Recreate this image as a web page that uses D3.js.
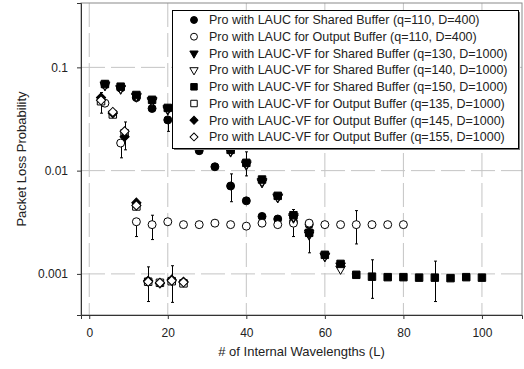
<!DOCTYPE html>
<html>
<head>
<meta charset="utf-8">
<script src="https://cdn.jsdelivr.net/npm/d3@7"></script>
<style>
  body { margin: 0; background: #fff; }
  svg { display: block; font-family: "Liberation Sans", Arial, sans-serif; }
</style>
</head>
<body>
<div id="chart"></div>
<script>
// ---------------- data

const seriesNames = [
  "Pro with LAUC for Shared Buffer (q=110, D=400)",
  "Pro with LAUC for Output Buffer (q=110, D=400)",
  "Pro with LAUC-VF for Shared Buffer (q=130, D=1000)",
  "Pro with LAUC-VF for Shared Buffer (q=140, D=1000)",
  "Pro with LAUC-VF for Shared Buffer (q=150, D=1000)",
  "Pro with LAUC-VF for Output Buffer (q=135, D=1000)",
  "Pro with LAUC-VF for Output Buffer (q=145, D=1000)",
  "Pro with LAUC-VF for Output Buffer (q=155, D=1000)"
]

// wavelengths used by each group of runs
const lShared400 = [4, 8, 12, 16, 20, 24, 28, 32, 36, 40, 44, 48, 52, 56]
const lOutput400 = [4, 8, 12, 16, 20, 24, 28, 32, 36, 40, 44, 48, 52, 56, 60, 64, 68, 72, 76, 80]
const lSharedVF = [4, 8, 12, 16, 20, 24, 28, 32, 36, 40, 44, 48, 52, 56, 60, 64]
const lSharedVF150 = [4, 8, 12, 16, 20, 24, 28, 32, 36, 40, 44, 48, 52, 56, 60, 64, 68, 72, 76, 80, 84, 88, 92, 96, 100]
const lOutputVF = [3, 6, 9, 12, 15, 18, 21, 24]

const lossShared110 = [0.068, 0.063, 0.051, 0.040, 0.031, 0.022, 0.0156, 0.0109, 0.0071, 0.0051, 0.0036, 0.0034, 0.0032, 0.0030]
const lossOutput110 = [0.045, 0.0185, 0.0032, 0.0030, 0.0032, 0.0030, 0.0030, 0.0031, 0.0030, 0.0029, 0.0031, 0.0030, 0.0031, 0.0031, 0.0030, 0.0030, 0.0030, 0.0030, 0.0030, 0.0030]
const lossShared130 = [0.067, 0.062, 0.052, 0.047, 0.039, 0.031, 0.024, 0.019, 0.0153, 0.0114, 0.0077, 0.0055, 0.0035, 0.0024, 0.00148, 0.0012]
const lossShared140 = [0.068, 0.063, 0.053, 0.048, 0.040, 0.031, 0.025, 0.020, 0.0156, 0.0117, 0.0079, 0.0056, 0.0036, 0.0025, 0.0015, 0.00112]
const lossShared150 = [0.069, 0.065, 0.054, 0.0485, 0.0405, 0.032, 0.025, 0.020, 0.0159, 0.0119, 0.0082, 0.0057, 0.0037, 0.0025, 0.00153, 0.00125, 0.00098, 0.00094, 0.00093, 0.00093, 0.00092, 0.00092, 0.00091, 0.00093, 0.00092]
const lossOutput135 = [0.047, 0.035, 0.023, 0.0045, 0.00084, 0.00082, 0.00085, 0.00081]
const lossOutput145 = [0.051, 0.036, 0.0213, 0.0049, 0.00086, 0.00081, 0.00088, 0.00084]
const lossOutput155 = [0.048, 0.037, 0.024, 0.0046, 0.00084, 0.00082, 0.00086, 0.00083]

// error bars: [series index, L, low, high]
const errorBars = [
  [6, 3, 0.036, 0.057],
  [6, 9, 0.0159, 0.0296],
  [1, 8, 0.0133, 0.0185],
  [1, 12, 0.0023, 0.0032],
  [1, 16, 0.00215, 0.0037],
  [6, 15, 0.00054, 0.00117],
  [6, 21, 0.00053, 0.0012],
  [0, 20, 0.024, 0.031],
  [0, 36, 0.0050, 0.0093],
  [4, 40, 0.0089, 0.0152],
  [4, 52, 0.0023, 0.0042],
  [4, 56, 0.0016, 0.0025],
  [1, 68, 0.00195, 0.0041],
  [4, 72, 0.00058, 0.00137],
  [4, 88, 0.00054, 0.00133]
]

const xTicks = [0, 20, 40, 60, 80, 100]
const yTicks = [0.1, 0.01, 0.001]
const yTickLabels = ["0.1", "0.01", "0.001"]

// ---------------- dimensions

const dimensions = {
  width: 524,
  height: 369,
  margin: { top: 3, right: 2, bottom: 54, left: 81 }
}
dimensions.boundedWidth = dimensions.width - dimensions.margin.left - dimensions.margin.right
dimensions.boundedHeight = dimensions.height - dimensions.margin.top - dimensions.margin.bottom

const wrapper = d3.select("#chart")
  .append("svg")
  .attr("width", dimensions.width)
  .attr("height", dimensions.height)

const bounds = wrapper.append("g")
  .attr("transform", `translate(${dimensions.margin.left}, ${dimensions.margin.top})`)

// ---------------- scales

const xScale = d3.scaleLinear()
  .domain([-2.1, 110.2])
  .range([0, dimensions.boundedWidth])

const yScale = d3.scaleLog()
  .domain([0.0004, 0.42])
  .range([dimensions.boundedHeight, 0])

// ---------------- grid

const gridColor = "#c4c4c4"
bounds.append("g").selectAll("line")
  .data(xTicks)
  .join("line")
  .attr("x1", d => xScale(d)).attr("x2", d => xScale(d))
  .attr("y1", 0).attr("y2", dimensions.boundedHeight)
  .attr("stroke", gridColor)
  .attr("stroke-dasharray", "24,6")

bounds.append("g").selectAll("line")
  .data(yTicks)
  .join("line")
  .attr("x1", 0).attr("x2", dimensions.boundedWidth)
  .attr("y1", d => yScale(d)).attr("y2", d => yScale(d))
  .attr("stroke", gridColor)
  .attr("stroke-dasharray", "24,6")

// frame
bounds.append("rect")
  .attr("x", 0).attr("y", 0)
  .attr("width", dimensions.boundedWidth)
  .attr("height", dimensions.boundedHeight)
  .attr("fill", "none")
  .attr("stroke", "#8a8a8a")

// ---------------- series

const seriesData = [
  { l: lShared400, v: lossShared110, shape: "circle", fill: "#000" },
  { l: lOutput400, v: lossOutput110, shape: "circle", fill: "#fff" },
  { l: lSharedVF, v: lossShared130, shape: "triangle", fill: "#000" },
  { l: lSharedVF, v: lossShared140, shape: "triangle", fill: "#fff" },
  { l: lSharedVF150, v: lossShared150, shape: "square", fill: "#000" },
  { l: lOutputVF, v: lossOutput135, shape: "square", fill: "#fff" },
  { l: lOutputVF, v: lossOutput145, shape: "diamond", fill: "#000" },
  { l: lOutputVF, v: lossOutput155, shape: "diamond", fill: "#fff" }
]

function symbolPath(shape, k) {
  if (shape === "circle") return d3.symbol(d3.symbolCircle, 50 * k)()
  if (shape === "square") return d3.symbol(d3.symbolSquare, 56 * k)()
  if (shape === "triangle") return d3.symbol(d3.symbolTriangle, 40 * k)()
  return d3.symbol(d3.symbolSquare, 42 * k)()
}
function symbolRotate(shape) {
  if (shape === "triangle") return " rotate(180)"
  if (shape === "diamond") return " rotate(45)"
  return ""
}

// error bars
const errGroup = bounds.append("g")
  .attr("stroke", "#000")
  .attr("stroke-width", 1)
errorBars.forEach(([s, l, lo, hi]) => {
  const x = Math.round(xScale(l)) + 0.5
  errGroup.append("line")
    .attr("x1", x).attr("x2", x)
    .attr("y1", yScale(lo)).attr("y2", yScale(hi))
  ;[lo, hi].forEach(v => {
    errGroup.append("line")
      .attr("x1", x - 1.5).attr("x2", x + 1.5)
      .attr("y1", yScale(v)).attr("y2", yScale(v))
  })
})

seriesData.forEach(s => {
  const points = s.l.map((l, i) => ({ l, v: s.v[i] }))
  bounds.append("g").selectAll("path")
    .data(points)
    .join("path")
    .attr("d", symbolPath(s.shape, 1))
    .attr("transform", d => `translate(${xScale(d.l)}, ${yScale(d.v)})${symbolRotate(s.shape)}`)
    .attr("fill", s.fill)
    .attr("stroke", "#000")
    .attr("stroke-width", 1)
})

// ---------------- axes

const xAxis = d3.axisBottom(xScale)
  .tickValues(xTicks)
  .tickSize(4)
  .tickPadding(9)

const xAxisGroup = bounds.append("g")
  .attr("transform", `translate(0, ${dimensions.boundedHeight})`)
  .call(xAxis)

const yAxis = d3.axisLeft(yScale)
  .tickValues(yTicks)
  .tickFormat((d, i) => yTickLabels[i])
  .tickSize(4)
  .tickPadding(9)

const yAxisGroup = bounds.append("g").call(yAxis)

;[xAxisGroup, yAxisGroup].forEach(g => {
  g.select(".domain").attr("stroke", "#333")
  g.selectAll(".tick line").attr("stroke", "#333")
  g.selectAll("text")
    .attr("fill", "#222")
    .style("font-size", "12px")
    .style("font-family", "'Liberation Sans', Arial, sans-serif")
})

wrapper.append("text")
  .attr("x", dimensions.margin.left + dimensions.boundedWidth / 2)
  .attr("y", 356)
  .attr("text-anchor", "middle")
  .attr("fill", "#222")
  .style("font-size", "13px")
  .text("# of Internal Wavelengths (L)")

wrapper.append("text")
  .attr("transform", `translate(26, ${dimensions.margin.top + dimensions.boundedHeight / 2}) rotate(-90)`)
  .attr("text-anchor", "middle")
  .attr("fill", "#222")
  .style("font-size", "13px")
  .text("Packet Loss Probability")

// ---------------- legend

const legend = wrapper.append("g")
  .attr("transform", "translate(172, 10)")

legend.append("rect")
  .attr("x", 2).attr("y", 2)
  .attr("width", 346).attr("height", 138)
  .attr("fill", "#777")

legend.append("rect")
  .attr("x", 0.5).attr("y", 0.5)
  .attr("width", 346).attr("height", 138)
  .attr("fill", "#fff")
  .attr("stroke", "#000")

const legendRows = legend.selectAll("g.row")
  .data(seriesData)
  .join("g")
  .attr("class", "row")
  .attr("transform", (d, i) => `translate(0, ${10 + i * 16.7})`)

legendRows.append("path")
  .attr("d", d => symbolPath(d.shape, 0.75))
  .attr("transform", d => `translate(22, 0)${symbolRotate(d.shape)}`)
  .attr("fill", d => d.fill)
  .attr("stroke", "#000")

legendRows.append("text")
  .attr("x", 37)
  .attr("dy", "0.35em")
  .attr("fill", "#222")
  .style("font-size", "12.5px")
  .text((d, i) => seriesNames[i])
</script>
</body>
</html>
